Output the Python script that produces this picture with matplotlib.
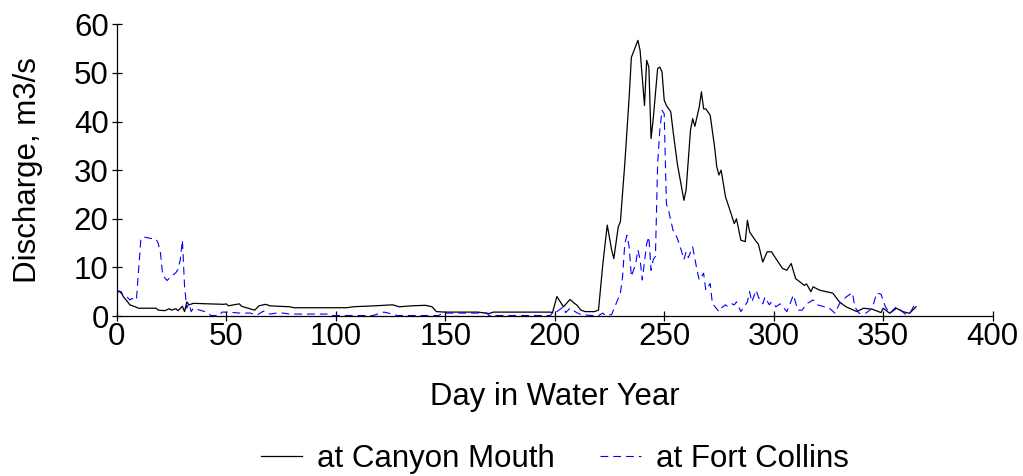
import matplotlib
matplotlib.use("Agg")
import matplotlib.pyplot as plt

plt.rcParams['font.family'] = ['Liberation Sans', 'DejaVu Sans']

# ---- data ----
canyon_days = [0, 2, 3, 5, 6, 9, 10, 18, 19, 22, 24, 25, 27, 28, 30, 31, 32, 33, 35,
               49, 50, 51, 56, 57, 63, 65, 68, 70, 74, 79, 81, 105, 108, 118, 126, 129,
               135, 141, 144, 146, 150, 165, 170, 172, 198, 199, 201, 204, 207, 209, 210,
               212, 214, 218, 220, 222, 224, 226, 227, 229, 230, 232, 234, 235, 238, 239,
               241, 242, 243, 244, 245, 247, 248, 249, 250, 251, 253, 254, 256, 259, 260,
               262, 263, 264, 266, 267, 268, 269, 271, 273, 274, 275, 276, 278, 280, 282,
               283, 285, 287, 288, 289, 292, 293, 295, 297, 299, 301, 304, 306, 308, 310,
               312, 314, 315, 317, 318, 321, 324, 327, 330, 333, 338, 341, 345, 349, 350,
               353, 356, 359, 362, 365]
canyon_q = [5.0, 5.0, 4.0, 2.9, 2.3, 1.8, 1.6, 1.6, 1.2, 1.1, 1.5, 1.2, 1.5, 1.1, 2.0, 0.9, 2.9, 2.3, 2.6,
            2.4, 2.5, 2.1, 2.5, 2.0, 1.2, 2.1, 2.4, 2.1, 2.0, 1.9, 1.7, 1.7, 1.9, 2.1, 2.3, 1.9,
            2.1, 2.2, 1.9, 0.9, 0.8, 0.8, 0.5, 0.8, 0.8, 0.7, 4.0, 1.9, 3.4, 2.6, 2.3,
            1.2, 0.9, 0.9, 1.2, 10.8, 18.7, 13.6, 11.8, 18.3, 19.4, 31.3, 45.0, 53.2, 56.7, 54.6,
            43.3, 52.6, 51.2, 36.5, 40.6, 50.9, 51.2, 50.2, 44.4, 43.3, 42.0, 38.2, 31.3, 23.8, 25.9,
            38.2, 40.6, 39.0, 43.0, 46.1, 42.6, 42.6, 41.3, 34.8, 30.7, 29.0, 30.0, 24.5, 21.8, 19.0,
            20.0, 15.6, 15.3, 19.7, 17.3, 15.3, 14.8, 11.1, 13.2, 13.2, 11.8, 9.8, 9.4, 10.8, 7.7,
            7.0, 6.3, 6.6, 5.0, 6.0, 5.3, 5.0, 4.7, 2.9, 1.9, 0.9, 1.6, 1.4, 0.7, 1.6,
            0.55, 1.6, 0.9, 0.55, 1.9]

fort_days = [0, 1, 2, 5, 6, 7, 9, 11, 12, 15, 18, 19, 20, 21, 23, 25, 27, 28, 29, 30,
             31, 32, 33, 34, 35, 38, 41, 43, 47, 48, 51, 56, 61, 64, 67, 70, 73, 76, 79,
             82, 96, 97, 117, 122, 126, 128, 147, 149, 169, 170, 198, 200, 201, 204, 205,
             207, 210, 212, 217, 220, 222, 223, 226, 230, 231, 232, 233, 234, 235, 237, 238,
             239, 240, 242, 243, 244, 245, 246, 247, 248, 249, 250, 251, 252, 254, 256, 258,
             259, 260, 261, 263, 265, 266, 268, 269, 271, 272, 275, 276, 278, 279, 281, 282,
             283, 285, 286, 288, 289, 290, 292, 293, 295, 296, 298, 299, 301, 303, 306, 309,
             311, 313, 315, 318, 320, 323, 325, 328, 330, 333, 336, 337, 339, 342, 345, 347,
             349, 351, 353, 356, 358, 360, 362, 365]
fort_q = [5.0, 5.2, 4.7, 3.8, 3.3, 3.6, 3.3, 15.6, 16.3, 16.0, 15.8, 14.9, 12.9, 8.4, 7.3, 8.2, 8.9, 9.6, 11.5, 15.6,
          6.0, 1.6, 2.6, 0.9, 1.6, 1.2, 0.8, 0.1, 0.1, 0.8, 0.8, 0.6, 0.6, 0.2, 1.0, 0.4, 0.6, 0.6, 0.4,
          0.4, 0.4, 0.1, 0.1, 0.8, 0.4, 0.1, 0.1, 0.6, 0.6, 0.1, 0.1, 1.2, 0.9, 1.9, 0.7,
          1.6, 0.7, 0.3, 0.1, 0.1, 0.6, 0.1, 0.3, 4.7, 8.1, 14.9, 16.6, 14.2, 8.1, 10.8, 13.6,
          11.6, 7.4, 14.9, 16.3, 9.4, 11.6, 12.3, 31.3, 38.2, 42.3, 41.6, 23.1, 21.7, 17.7, 16.0, 13.2,
          11.6, 13.2, 12.0, 14.2, 9.4, 7.4, 8.8, 5.3, 6.7, 2.6, 0.9, 1.6, 2.3, 1.9, 2.5, 2.3,
          2.9, 0.9, 1.6, 2.9, 5.0, 2.9, 5.3, 3.9, 2.5, 3.9, 2.3, 2.9, 1.9, 2.5, 0.9, 4.3,
          1.2, 1.2, 2.5, 3.3, 2.3, 1.9, 1.8, 0.55, 2.5, 3.9, 4.8, 1.9, 0.55, 0.55, 1.6, 4.7,
          4.5, 1.9, 0.55, 1.9, 1.2, 0.4, 0.4, 2.9]

series_labels = ["at Canyon Mouth", "at Fort Collins"]
x_ticks = [0, 50, 100, 150, 200, 250, 300, 350, 400]
y_ticks = [0, 10, 20, 30, 40, 50, 60]

# ---- figure ----
fig = plt.figure(figsize=(10.23, 4.76), dpi=100)
ax = fig.add_axes([116.7 / 1023, 160 / 476, 876 / 1023, 291.7 / 476])

ax.plot(canyon_days, canyon_q, color='black', lw=0.9, label=series_labels[0])
ax.plot(fort_days, fort_q, color='#0000ff', lw=0.8, linestyle=(0, (7, 4.5)),
        label=series_labels[1])

ax.set_xlim(0, 400)
ax.set_ylim(0, 60)
ax.set_xticks(x_ticks)
ax.set_yticks(y_ticks)
ax.spines['top'].set_visible(False)
ax.spines['right'].set_visible(False)
for s in ('left', 'bottom'):
    ax.spines[s].set_linewidth(0.9)
ax.tick_params(direction='inout', length=6.5, width=0.9, labelsize=22.5, pad=1.0)
ax.tick_params(axis='y', pad=2.5)

ax.set_xlabel("Day in Water Year", fontsize=22.3)
ax.xaxis.label.set_va('center')
ax.xaxis.set_label_coords(0.5, (316 - 397) / 291.7)
ax.set_ylabel("Discharge, m3/s", fontsize=22.5)
ax.yaxis.label.set_va('center')
ax.yaxis.set_label_coords((28 - 116.7) / 876, 0.5)

fig.legend(loc='center', bbox_to_anchor=(555 / 1023, 1 - 459 / 476), ncol=2, frameon=False,
           fontsize=22.5, handlelength=1.3, handletextpad=0.48, columnspacing=1.45)

fig.savefig("out.png", dpi=100)
